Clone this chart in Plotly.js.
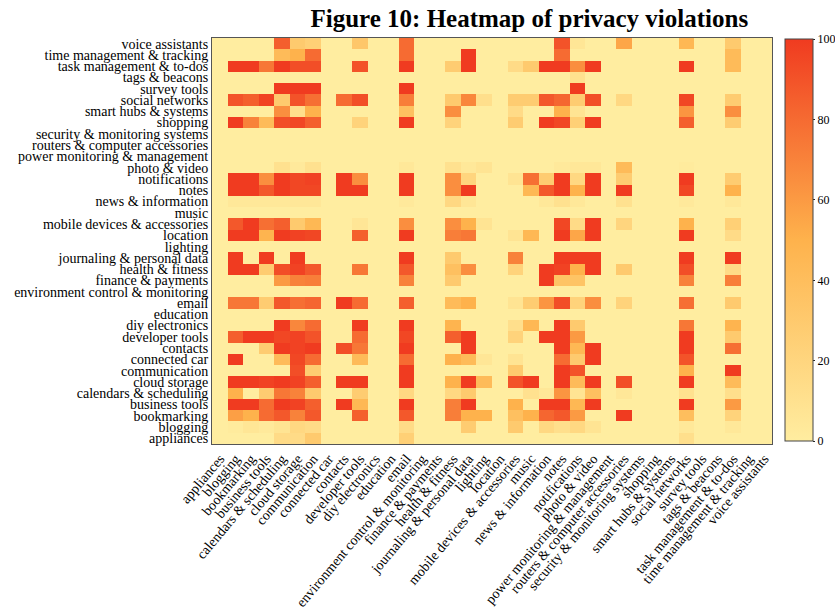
<!DOCTYPE html>
<html>
<head>
<meta charset="utf-8">
<script src="https://cdn.plot.ly/plotly-3.0.1.min.js"></script>
<style>html,body{margin:0;padding:0;background:#fff;}#chart{width:835px;height:616px;}</style>
</head>
<body>
<div id="chart"></div>
<script>
const categories = ["appliances","blogging","bookmarking","business tools","calendars & scheduling","cloud storage","communication","connected car","contacts","developer tools","diy electronics","education","email","environment control & monitoring","finance & payments","health & fitness","journaling & personal data","lighting","location","mobile devices & accessories","music","news & information","notes","notifications","photo & video","power monitoring & management","routers & computer accessories","security & monitoring systems","shopping","smart hubs & systems","social networks","survey tools","tags & beacons","task management & to-dos","time management & tracking","voice assistants"];

// one row per y category (bottom to top), values per x category
const zAppliances   = [0,0,0,0,15,15, 30,0,0,0,0,0, 25,0,0,0,0,0, 0,0,0,0,0,0, 0,0,0,0,0,0, 12,0,0,0,0,0];
const zBlogging     = [0,2,6,3,8,18, 15,0,0,0,0,0, 15,0,0,0,28,0, 0,30,0,18,12,18, 8,0,0,0,0,0, 4,0,0,4,0,0];
const zBookmarking  = [0,58,50,80,88,70, 88,0,0,85,0,0, 88,0,0,72,50,50, 0,38,50,82,88,60, 0,0,100,0,0,0, 40,0,0,22,0,0];
const zBusiness     = [0,100,100,80,100,97, 85,0,100,45,0,0, 100,0,0,72,100,0, 0,50,0,100,100,45, 100,0,0,0,0,0, 100,0,0,60,0,0];
const zCalendars    = [0,50,0,28,75,70, 30,0,0,28,0,0, 18,0,0,18,30,0, 0,0,10,5,62,8, 38,0,5,0,0,0, 10,0,0,12,0,0];
const zCloud        = [0,100,100,97,100,97, 85,0,100,100,0,0, 100,0,0,50,100,42, 0,90,100,0,100,42, 100,0,92,0,0,0, 100,0,0,42,0,0];
const zCommunication= [0,0,0,0,0,92, 28,0,0,0,0,0, 100,0,0,0,0,0, 0,30,0,0,100,90, 0,0,0,0,0,0, 50,0,0,100,0,0];
const zConnectedCar = [0,100,0,0,42,95, 80,0,0,42,0,0, 80,0,0,50,42,6, 0,8,0,0,80,30, 100,0,0,0,0,0, 90,0,0,0,0,0];
const zContacts     = [0,0,0,28,100,97, 100,0,92,75,0,0, 100,0,0,0,100,0, 0,0,0,0,100,45, 100,0,0,0,0,0, 100,0,0,78,0,0];
const zDeveloper    = [0,85,100,100,95,97, 90,0,0,80,0,0, 95,0,0,85,100,0, 0,22,0,100,100,60, 0,0,0,0,0,0, 100,0,0,30,0,0];
const zDiy          = [0,0,0,0,100,68, 80,0,0,100,0,0, 100,0,0,48,0,0, 0,12,45,0,100,30, 0,0,0,0,0,0, 75,0,0,48,0,0];
const zEducation    = [0,0,0,0,0,0, 0,0,0,0,0,0, 0,0,0,0,0,0, 0,0,0,0,0,0, 0,0,0,0,0,0, 0,0,0,0,0,0];
const zEmail        = [0,75,75,28,88,78, 82,0,100,80,0,0, 85,0,0,42,50,0, 0,8,28,62,92,22, 65,0,22,0,0,0, 78,0,0,30,0,0];
const zEnvironment  = [0,0,0,0,0,0, 0,0,0,0,0,0, 0,0,0,0,0,0, 0,0,0,0,0,0, 0,0,0,0,0,0, 0,0,0,0,0,0];
const zFinance      = [0,0,0,0,60,70, 72,0,0,0,0,0, 70,0,0,30,0,0, 0,0,0,100,35,35, 0,0,0,0,0,0, 70,0,0,72,0,0];
const zHealth       = [0,100,100,28,92,97, 88,0,0,75,0,0, 88,0,0,38,65,0, 0,22,0,100,97,50, 100,0,30,0,0,0, 92,0,0,15,0,0];
const zJournaling   = [0,100,0,100,0,100, 0,0,0,0,0,0, 100,0,0,30,0,0, 0,70,0,0,100,100, 100,0,0,0,0,0, 100,0,0,100,0,0];
const zLighting     = [0,0,0,0,0,0, 0,0,0,0,0,0, 0,0,0,0,0,0, 0,0,0,0,0,0, 0,0,0,0,0,0, 0,0,0,0,0,0];
const zLocation     = [0,100,100,48,100,97, 95,0,0,85,0,0, 100,0,0,72,75,0, 0,8,45,0,100,55, 100,0,0,0,0,0, 100,0,0,15,0,0];
const zMobile       = [0,88,100,78,85,30, 45,0,0,6,0,0, 65,0,0,65,50,8, 0,0,0,0,95,15, 100,0,20,0,0,0, 50,0,0,25,0,0];
const zMusic        = [0,0,0,0,0,0, 0,0,0,0,0,0, 0,0,0,0,0,0, 0,0,0,0,0,0, 0,0,0,0,0,0, 0,0,0,0,0,0];
const zNews         = [0,4,4,4,4,5, 5,0,0,0,0,0, 3,0,0,18,6,0, 0,0,0,4,10,4, 0,0,10,0,0,0, 3,0,0,4,0,0];
const zNotes        = [0,100,100,88,100,95, 95,0,100,100,0,0, 100,0,0,65,100,0, 0,0,45,88,100,50, 100,0,100,0,0,0, 95,0,0,50,0,0];
const zNotifications= [0,100,100,65,100,95, 97,0,100,65,0,0, 100,0,0,65,20,0, 0,8,78,28,100,18, 100,0,28,0,0,0, 100,0,0,28,0,0];
const zPhoto        = [0,0,0,0,10,3, 10,0,0,0,0,0, 4,0,0,10,4,8, 0,0,0,0,3,5, 5,0,42,0,0,0, 2,0,0,0,0,0];
const zPower        = [0,0,0,0,0,0, 0,0,0,0,0,0, 0,0,0,0,0,0, 0,0,0,0,0,0, 0,0,0,0,0,0, 0,0,0,0,0,0];
const zRouters      = [0,0,0,0,0,0, 0,0,0,0,0,0, 0,0,0,0,0,0, 0,0,0,0,0,0, 0,0,0,0,0,0, 0,0,0,0,0,0];
const zSecurity     = [0,0,0,0,0,0, 0,0,0,0,0,0, 0,0,0,0,0,0, 0,0,0,0,0,0, 0,0,0,0,0,0, 0,0,0,0,0,0];
const zShopping     = [0,100,70,42,92,95, 85,0,0,22,0,0, 100,0,0,22,0,0, 0,28,0,100,95,25, 100,0,0,0,0,0, 85,0,0,28,0,0];
const zSmartHubs    = [0,0,0,0,65,12, 50,0,0,0,0,0, 38,0,0,65,0,0, 0,15,0,0,50,8, 0,0,0,0,0,0, 62,0,0,65,0,0];
const zSocial       = [0,90,85,97,30,90, 78,0,80,92,0,0, 72,0,0,30,68,12, 0,28,28,88,82,28, 92,0,18,0,0,0, 95,0,0,28,0,0];
const zSurvey       = [0,0,0,0,100,100, 100,0,0,0,0,0, 100,0,0,0,0,0, 0,0,0,0,0,100, 0,0,0,0,0,0, 0,0,0,0,0,0];
const zTags         = [0,0,0,0,0,0, 0,0,0,0,0,0, 0,0,0,0,0,0, 0,0,0,0,0,10, 0,0,0,0,0,0, 0,0,0,0,0,0];
const zTask         = [0,100,100,75,100,92, 92,0,0,90,0,0, 100,0,0,28,100,0, 0,15,30,100,100,65, 100,0,0,0,0,0, 100,0,0,42,0,0];
const zTime         = [0,0,0,0,42,50, 80,0,0,0,0,0, 80,0,0,0,100,0, 0,0,0,0,80,0, 0,0,0,0,0,0, 0,0,0,42,0,0];
const zVoice        = [0,0,0,0,85,30, 25,0,0,32,0,0, 80,0,0,0,0,0, 0,0,0,0,90,6, 0,0,55,0,0,0, 45,0,0,30,0,0];

const colorbarTicks = [0, 20, 40, 60, 80, 100];

const z = [zAppliances,zBlogging,zBookmarking,zBusiness,zCalendars,zCloud,zCommunication,zConnectedCar,zContacts,zDeveloper,zDiy,zEducation,zEmail,zEnvironment,zFinance,zHealth,zJournaling,zLighting,zLocation,zMobile,zMusic,zNews,zNotes,zNotifications,zPhoto,zPower,zRouters,zSecurity,zShopping,zSmartHubs,zSocial,zSurvey,zTags,zTask,zTime,zVoice];

const serif = "Liberation Serif, Times New Roman, serif";

const trace = {
  type: 'heatmap',
  x: categories,
  y: categories,
  z: z,
  zmin: 0, zmax: 100,
  colorscale: [[0, '#FFEDA0'], [0.5, '#FEB24C'], [1, '#F03B20']],
  xgap: 0, ygap: 0,
  colorbar: {
    x: 1.0232, xanchor: 'left', xpad: 0,
    y: 0.502, yanchor: 'middle', ypad: 0,
    len: 0.99, lenmode: 'fraction',
    thickness: 28, thicknessmode: 'pixels',
    outlinewidth: 1, outlinecolor: '#444',
    tickmode: 'array', tickvals: colorbarTicks, ticktext: colorbarTicks.map(String),
    ticks: 'outside', ticklen: 2, tickcolor: '#222',
    tickfont: {family: serif, size: 12, color: '#000'}
  },
  hoverinfo: 'skip'
};

const layout = {
  width: 835, height: 616,
  paper_bgcolor: '#fff', plot_bgcolor: '#FFEDA0',
  margin: {l: 212, r: 63, t: 38, b: 172, autoexpand: false},
  title: {
    text: '<b>Figure 10: Heatmap of privacy violations</b>',
    font: {family: serif, size: 25, color: '#000'},
    x: 0.896, xanchor: 'right', xref: 'container',
    y: 0.971, yanchor: 'middle', yref: 'container'
  },
  xaxis: {
    type: 'category', categoryorder: 'array', categoryarray: categories,
    tickmode: 'array', tickvals: categories, ticktext: categories,
    tickangle: -50, ticks: '', showgrid: false, zeroline: false,
    showline: true, mirror: true, linecolor: '#555', linewidth: 1,
    tickfont: {family: serif, size: 14, color: '#000'},
    automargin: false
  },
  yaxis: {
    type: 'category', categoryorder: 'array', categoryarray: categories,
    tickmode: 'array', tickvals: categories, ticktext: categories,
    ticks: '', showgrid: false, zeroline: false,
    showline: true, mirror: true, linecolor: '#555', linewidth: 1,
    tickfont: {family: serif, size: 14, color: '#000'},
    automargin: false
  }
};

Plotly.newPlot('chart', [trace], layout, {displayModeBar: false, staticPlot: true});
</script>
</body>
</html>
